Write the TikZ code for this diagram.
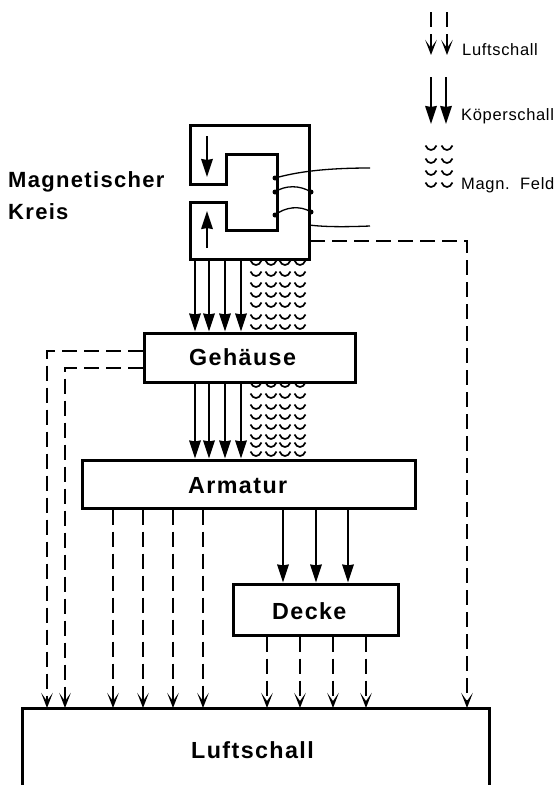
\documentclass[tikz,border=0pt]{standalone}
\usepackage{fontspec}
\setmainfont{Liberation Sans}
\usetikzlibrary{arrows.meta}
\newfontfamily\bfsp[LetterSpace=6]{Liberation Sans Bold}
\newfontfamily\regsp[LetterSpace=4]{Liberation Sans}
\tikzset{
  box/.style={draw,line width=3pt,inner sep=0pt},
  boxlabel/.style={font=\bfsp\fontsize{23.3}{25}\selectfont,anchor=base west,inner sep=0pt},
  solidarrow/.style={line width=2pt,-{Stealth[length=18pt,width=11.5pt,inset=1pt]}},
  dasharrow/.style={line width=1.7pt,dash pattern=on 15pt off 7pt,-{Stealth[length=15pt,width=11.5pt,inset=8pt]}},
  plainwire/.style={line width=1.3pt},
  cup/.pic={\draw[line width=1.7pt] (-5.5,-2.5) .. controls (-3,3.5) and (3,3.5) .. (5.5,-2.5);},
  dot/.style={circle,fill,inner sep=0pt,minimum size=5pt},
  big/.style={font=\bfsp\fontsize{22}{24}\selectfont,anchor=base west,inner sep=0pt},
  leg/.style={font=\regsp\fontsize{16.5}{18}\selectfont,anchor=base west,inner sep=0pt},
}
\begin{document}
\begin{tikzpicture}[x=1pt,y=-1pt]
\useasboundingbox (0,0) rectangle (555,785);
% field
\foreach \x in {256,271,285,300}{
  \foreach \y in {263,274,285,295,305,317,327}{\pic at (\x,\y) {cup};}
  \foreach \y in {385,396,407,417,427,437,445,454}{\pic at (\x,\y) {cup};}
}
% boxes
\node[box,fill=white,minimum width=211pt,minimum height=49pt] (geh) at (249.5,357.5) {};
\node[box,fill=white,minimum width=333pt,minimum height=48pt] (arm) at (248.5,484) {};
\node[box,fill=white,minimum width=165pt,minimum height=51pt] (dec) at (316,609.5) {};
\node[boxlabel] (gehl) at (189,365) {Gehäuse};
\node[boxlabel] (arml) at (188,493) {Armatur};
\node[boxlabel] (decl) at (272,619) {Decke};
\node[boxlabel] (lufl) at (191,758) {Luftschall};
\coordinate (ltl) at (22,708);
\coordinate (ltr) at (489,708);
\coordinate (lbl) at (22,785);
\coordinate (lbr) at (489,785);
\draw[line width=3pt] (lbl) -- (ltl) -- (ltr) -- (lbr);
\draw[line width=1pt,gray] (lbl) -- (lbr);
% magnet
\coordinate (mtl) at (190,125);
\coordinate (mtr) at (309,125);
\coordinate (mbr) at (309,259);
\coordinate (mbl) at (190,259);
\draw[line width=3pt,line join=miter,fill=white] (mtl) -- (mtr) -- (mbr) -- (mbl) -- (190,202) -- (226,202) -- (226,230) -- (277,230) -- (277,154) -- (226,154) -- (226,184) -- (190,184) -- cycle;
\coordinate (da1) at (207,136); \coordinate (da2) at (207,177);
\coordinate (ua1) at (207,248); \coordinate (ua2) at (207,211);
\draw[solidarrow] (da1) -- (da2);
\draw[solidarrow] (ua1) -- (ua2);
% wires
\node[dot] (w1) at (275,178) {};
\node[dot] (w2) at (275,192) {};
\node[dot] (w3) at (311,192) {};
\node[dot] (w4) at (275,215) {};
\node[dot] (w5) at (311,212) {};
\coordinate (w1e) at (370,168);
\coordinate (w6) at (309,225);
\coordinate (w6e) at (370,226);
\draw[plainwire] (w1.center) .. controls (290,174) and (315,168) .. (w1e);
\draw[plainwire] (w2.center) .. controls (285,185) and (300,185) .. (w3.center);
\draw[plainwire] (w4.center) .. controls (285,207) and (300,205) .. (w5.center);
\draw[plainwire] (w6) .. controls (325,227) and (345,227) .. (w6e);
% solid arrows
\foreach \x in {195,209,225,241}{
  \coordinate (s) at (\x,0);
  \draw[solidarrow] (mbl -| s) -- (geh.north -| s);
  \draw[solidarrow] (geh.south -| s) -- (arm.north -| s);
}
\foreach \x in {283,316,348}{
  \coordinate (s) at (\x,0);
  \draw[solidarrow] (arm.south -| s) -- (dec.north -| s);
}
% dashed arrows
\foreach \x in {113,143,173,203}{
  \coordinate (s) at (\x,0);
  \draw[dasharrow] (arm.south -| s) -- (ltl -| s);
}
\foreach \x in {267,300,333,366}{
  \coordinate (s) at (\x,0);
  \draw[dasharrow] (dec.south -| s) -- (ltl -| s);
}
\coordinate (rr) at (467,241);
\coordinate (rs) at (310,241);
\draw[dasharrow] (rs) -- (rr) -- (ltl -| rr);
\coordinate (l1) at (47,351);
\coordinate (l2) at (65,368);
\draw[dasharrow] (geh.west |- l1) -- (l1) -- (ltl -| l1);
\draw[dasharrow] (geh.west |- l2) -- (l2) -- (ltl -| l2);
% label
\node[big] (m1) at (8,187) {Magnetischer};
\node[big] (m2) at (8,219) {Kreis};
% legend
\coordinate (a1t) at (431,12); \coordinate (a1b) at (431,55);
\coordinate (a2t) at (447,12); \coordinate (a2b) at (447,55);
\draw[dasharrow] (a1t) -- (a1b);
\draw[dasharrow] (a2t) -- (a2b);
\node[leg] (t1) at (462,55) {Luftschall};
\coordinate (b1t) at (431,77); \coordinate (b1b) at (431,124);
\coordinate (b2t) at (446,77); \coordinate (b2b) at (446,124);
\draw[solidarrow] (b1t) -- (b1b);
\draw[solidarrow] (b2t) -- (b2b);
\node[leg] (t2) at (461,120) {Köperschall};
\foreach \x in {431,447}{\foreach \y in {148,161,173,185}{\pic at (\x,\y) {cup};}}
\node[leg] (t3) at (461,189) {Magn.};
\node[leg] (t4) at (520,189) {Feld};
\end{tikzpicture}
\end{document}
